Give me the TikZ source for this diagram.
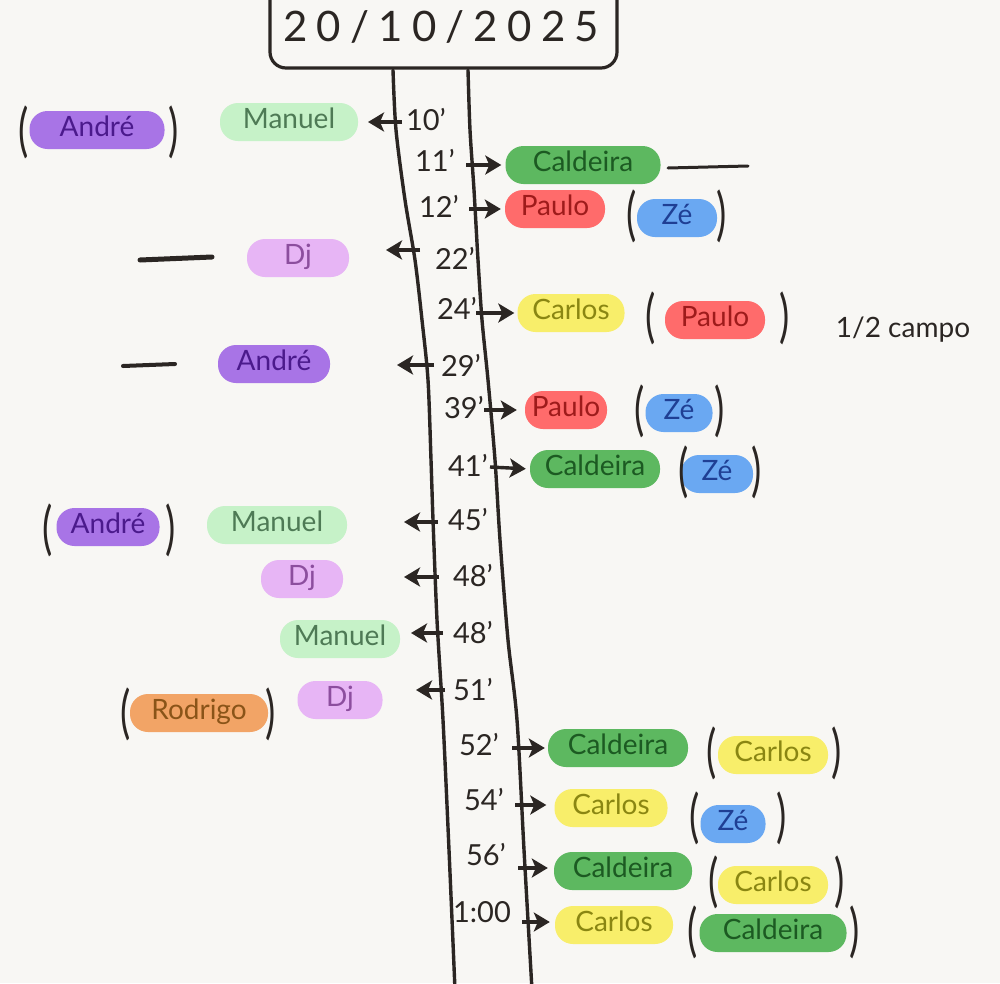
\documentclass[tikz,border=0pt]{standalone}
\usepackage{fontspec}
\usepackage{graphicx}
\setmainfont{Lato}
\usetikzlibrary{arrows.meta}
\definecolor{paper}{HTML}{F8F7F4}
\definecolor{ink}{HTML}{2B2623}
\definecolor{andreF}{HTML}{A874E6}\definecolor{andreT}{HTML}{4B1A8C}
\definecolor{manuelF}{HTML}{C6F2C8}\definecolor{manuelT}{HTML}{4E7A55}
\definecolor{caldF}{HTML}{5DB860}\definecolor{caldT}{HTML}{1C5A22}
\definecolor{pauloF}{HTML}{FF6B6B}\definecolor{pauloT}{HTML}{9E1B1B}
\definecolor{zeF}{HTML}{6AA8F2}\definecolor{zeT}{HTML}{1F3F94}
\definecolor{djF}{HTML}{E7B5F5}\definecolor{djT}{HTML}{8C4E9E}
\definecolor{carlosF}{HTML}{F8EE6A}\definecolor{carlosT}{HTML}{8A8612}
\definecolor{rodF}{HTML}{F2A466}\definecolor{rodT}{HTML}{8A5418}
\newcommand{\lpar}{\scalebox{0.8}[1.2]{(}}
\newcommand{\rpar}{\scalebox{0.8}[1.2]{)}}
\tikzset{
  pill/.style={rounded corners=18pt, minimum height=38pt, inner sep=0pt,
    font=\fontsize{28}{30}\selectfont, text height=19pt, text depth=7pt},
  andre/.style={pill, fill=andreF, text=andreT},
  manuel/.style={pill, fill=manuelF, text=manuelT},
  cald/.style={pill, fill=caldF, text=caldT},
  paulo/.style={pill, fill=pauloF, text=pauloT},
  ze/.style={pill, fill=zeF, text=zeT},
  dj/.style={pill, fill=djF, text=djT},
  carlos/.style={pill, fill=carlosF, text=carlosT},
  rod/.style={pill, fill=rodF, text=rodT},
  minute/.style={font=\fontsize{29}{30}\selectfont, text=ink, inner sep=0pt},
  paren/.style={font=\fontsize{48}{56}\selectfont, text=ink, inner sep=0pt},
  note/.style={font=\fontsize{28}{30}\selectfont, text=ink, inner sep=0pt},
  timeline/.style={draw=ink, line width=3.4pt, line cap=round},
  ev/.style={draw=ink, line width=3.4pt, -{Stealth[length=16pt,width=19pt,inset=4pt]}},
  stroke/.style={draw=ink, line cap=round},
  datebox/.style={draw=ink, line width=3.2pt, rounded corners=16pt},
}
\begin{document}
\begin{tikzpicture}[x=1pt,y=-1pt]
\useasboundingbox (0,0) rectangle (1000,983);
\fill[paper] (0,0) rectangle (1000,983);
\begin{scope}
\clip (0,0) rectangle (1000,983);
\node[datebox, minimum width=347pt, minimum height=98pt] (box) at (443.5,19) {};
\end{scope}
\node[font=\fontsize{42}{48}\selectfont\addfontfeature{LetterSpace=22}, text=ink] (date) at (441,27) {20/10/2025};

% timeline
\draw[timeline] plot[smooth] coordinates {(393,70) (396,130) (405,200) (415,260) (422,320) (428,380) (431,460) (433,520) (437,620) (443,720) (449,850) (455,990)};
\draw[timeline] plot[smooth] coordinates {(468,70) (470,130) (474,190) (478,260) (482,320) (488,380) (495,460) (500,540) (508,640) (517,720) (524,850) (532,990)};

% minutes
\node[minute] (m10) at (426,120) {10'};
\node[minute] (m11) at (435,160) {11'};
\node[minute] (m12) at (439,206) {12'};
\node[minute] (m22) at (455,258) {22'};
\node[minute] (m24) at (457,308) {24'};
\node[minute] (m29) at (461,365) {29'};
\node[minute] (m39) at (464,408) {39'};
\node[minute] (m41) at (468,465) {41'};
\node[minute] (m45) at (468,520) {45'};
\node[minute] (m48a) at (473,576) {48'};
\node[minute] (m48b) at (473,633) {48'};
\node[minute] (m51) at (473,690) {51'};
\node[minute] (m52) at (479,745) {52'};
\node[minute] (m54) at (484,800) {54'};
\node[minute] (m56) at (486,855) {56'};
\node[minute] (m100) at (482,912) {1:00};

% 10'
\node[manuel, minimum width=138pt] (p10) at (289,122) {Manuel};
\node[andre, minimum width=135pt] (q10) at (97,130) {André};
\node[paren] (q10l) at (24,132) {\lpar};
\node[paren] (q10r) at (174,132) {\rpar};
\coordinate (s10) at (402,122); \coordinate (e10) at (368,122);
\draw[ev] (s10) -- (e10);

% 11'
\node[cald, minimum width=155pt] (p11) at (583,165) {Caldeira};
\coordinate (d11a) at (668,168); \coordinate (d11b) at (748,166);
\draw[stroke, line width=3pt] (d11a) -- (d11b);
\coordinate (s11) at (466,165);
\draw[ev, shorten >=4pt] (s11) -- (p11.west);

% 12'
\node[paulo, minimum width=100pt] (p12) at (555,209) {Paulo};
\node[ze, minimum width=80pt] (q12) at (677,218) {Zé};
\node[paren] (q12l) at (632,216) {\lpar};
\node[paren] (q12r) at (722,216) {\rpar};
\coordinate (s12) at (469,209);
\draw[ev, shorten >=4pt] (s12) -- (p12.west);

% 22'
\node[dj, minimum width=102pt] (p22) at (298,258) {Dj};
\coordinate (d22a) at (140,260); \coordinate (d22b) at (212,257);
\draw[stroke, line width=5pt] (d22a) -- (d22b);
\coordinate (s22) at (420,250); \coordinate (e22) at (386,250);
\draw[ev] (s22) -- (e22);

% 24'
\node[carlos, minimum width=107pt] (p24) at (571,313) {Carlos};
\node[paulo, minimum width=100pt] (q24) at (715,320) {Paulo};
\node[paren] (q24l) at (651,318) {\lpar};
\node[paren] (q24r) at (785,318) {\rpar};
\node[note] (n24) at (903,330) {1/2 campo};
\coordinate (s24) at (476,313);
\draw[ev, shorten >=3pt] (s24) -- (p24.west);

% 29'
\node[andre, minimum width=112pt] (p29) at (274,364) {André};
\coordinate (d29a) at (123,366); \coordinate (d29b) at (175,364);
\draw[stroke, line width=4pt] (d29a) -- (d29b);
\coordinate (s29) at (434,365); \coordinate (e29) at (397,365);
\draw[ev] (s29) -- (e29);

% 39'
\node[paulo, minimum width=82pt] (p39) at (566,410) {Paulo};
\node[ze, minimum width=67pt] (q39) at (679,413) {Zé};
\node[paren] (q39l) at (640,411) {\lpar};
\node[paren] (q39r) at (720,411) {\rpar};
\coordinate (s39) at (484,410);
\draw[ev, shorten >=8pt] (s39) -- (p39.west);

% 41'
\node[cald, minimum width=130pt] (p41) at (595,469) {Caldeira};
\node[ze, minimum width=72pt] (q41) at (717,474) {Zé};
\node[paren] (q41l) at (684,472) {\lpar};
\node[paren] (q41r) at (757,472) {\rpar};
\coordinate (s41) at (490,467);
\draw[ev, shorten >=4pt] (s41) -- (p41.west);

% 45'
\node[manuel, minimum width=140pt] (p45) at (277,525) {Manuel};
\node[andre, minimum width=103pt] (q45) at (108,527) {André};
\node[paren] (q45l) at (48,530) {\lpar};
\node[paren] (q45r) at (171,530) {\rpar};
\coordinate (s45) at (438,522); \coordinate (e45) at (404,522);
\draw[ev] (s45) -- (e45);

% 48'
\node[dj, minimum width=82pt] (p48a) at (302,579) {Dj};
\coordinate (s48a) at (439,577); \coordinate (e48a) at (404,577);
\draw[ev] (s48a) -- (e48a);

% 48' b
\node[manuel, minimum width=120pt] (p48b) at (340,639) {Manuel};
\coordinate (s48b) at (443,633); \coordinate (e48b) at (411,633);
\draw[ev] (s48b) -- (e48b);

% 51'
\node[dj, minimum width=85pt] (p51) at (340,700) {Dj};
\node[rod, minimum width=138pt] (q51) at (199,713) {Rodrigo};
\node[paren] (q51l) at (126,714) {\lpar};
\node[paren] (q51r) at (271,714) {\rpar};
\coordinate (s51) at (445,690); \coordinate (e51) at (416,690);
\draw[ev] (s51) -- (e51);

% 52'
\node[cald, minimum width=140pt] (p52) at (618,748) {Caldeira};
\node[carlos, minimum width=110pt] (q52) at (773,755) {Carlos};
\node[paren] (q52l) at (712,753) {\lpar};
\node[paren] (q52r) at (837,753) {\rpar};
\coordinate (s52) at (512,748);
\draw[ev, shorten >=3pt] (s52) -- (p52.west);

% 54'
\node[carlos, minimum width=113pt] (p54) at (611,808) {Carlos};
\node[ze, minimum width=65pt] (q54) at (733,824) {Zé};
\node[paren] (q54l) at (695,818) {\lpar};
\node[paren] (q54r) at (782,818) {\rpar};
\coordinate (s54) at (515,805);
\draw[ev, shorten >=8pt] (s54) -- (p54.west |- s54);

% 56'
\node[cald, minimum width=138pt] (p56) at (623,871) {Caldeira};
\node[carlos, minimum width=110pt] (q56) at (773,885) {Carlos};
\node[paren] (q56l) at (714,882) {\lpar};
\node[paren] (q56r) at (840,882) {\rpar};
\coordinate (s56) at (518,868);
\draw[ev, shorten >=6pt] (s56) -- (p56.west |- s56);

% 1:00
\node[carlos, minimum width=118pt] (p100) at (614,925) {Carlos};
\node[cald, minimum width=147pt] (q100) at (773,933) {Caldeira};
\node[paren] (q100l) at (693,932) {\lpar};
\node[paren] (q100r) at (855,932) {\rpar};
\coordinate (s100) at (522,922);
\draw[ev, shorten >=5pt] (s100) -- (p100.west |- s100);
\end{tikzpicture}
\end{document}
